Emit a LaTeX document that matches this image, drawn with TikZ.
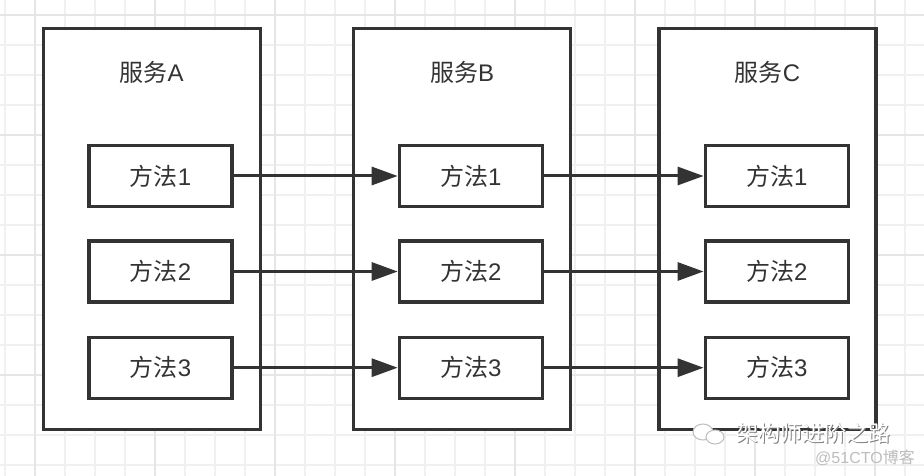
\documentclass[tikz,border=0pt]{standalone}
\usepackage{fontspec}
\setmainfont{Liberation Sans}
\newfontfamily\cjk{Noto Sans CJK SC}
\usetikzlibrary{arrows.meta}
\definecolor{ink}{HTML}{333333}
\definecolor{gridminor}{HTML}{F0F0F0}
\definecolor{gridmajor}{HTML}{E6E6E6}
\definecolor{wm}{HTML}{BDBDBD}
\begin{document}
\begin{tikzpicture}[x=1pt,y=-1pt,
  svc/.style={draw=ink, fill=white, line width=3.2pt, minimum width=217pt, minimum height=401pt, inner sep=0pt},
  meth/.style={draw=ink, fill=white, line width=3.2pt, minimum width=143pt, minimum height=61pt, inner sep=0pt, text=ink, font=\fontsize{24}{28}\selectfont},
  svctitle/.style={text=ink, font=\fontsize{24}{28}\selectfont, inner sep=0pt},
  arr/.style={draw=ink, line width=3pt, -{Triangle[length=26pt,width=18pt]}},
  wmtext/.style={inner sep=0pt}
]
\useasboundingbox (0,0) rectangle (924,476);
\fill[white] (0,0) rectangle (924,476);
% grid
\foreach \x in {5,35,...,905} \draw[gridminor, line width=1.2pt] (\x,0) -- (\x,476);
\foreach \y in {15,45,...,465} \draw[gridminor, line width=1.2pt] (0,\y) -- (924,\y);
\foreach \x in {35,155,...,905} \draw[gridmajor, line width=1.2pt] (\x,0) -- (\x,476);
\foreach \y in {15,135,...,465} \draw[gridmajor, line width=1.2pt] (0,\y) -- (924,\y);

% service boxes
\node[svc] (A) at (151.7,229.3) {};
\node[svc] (B) at (462,229.3) {};
\node[svc] (C) at (767.5,229.3) {};

\node[svctitle] (tA) at (151.7,72) {{\cjk 服务}A};
\node[svctitle] (tB) at (462,72) {{\cjk 服务}B};
\node[svctitle] (tC) at (767.5,72) {{\cjk 服务}C};

% methods
\node[meth] (A1) at (160.5,176) {{\cjk 方法}1};
\node[meth] (A2) at (160.5,271.5) {{\cjk 方法}2};
\node[meth] (A3) at (160.5,367.7) {{\cjk 方法}3};
\node[meth] (B1) at (470.8,176) {{\cjk 方法}1};
\node[meth] (B2) at (470.8,271.5) {{\cjk 方法}2};
\node[meth] (B3) at (470.8,367.7) {{\cjk 方法}3};
\node[meth] (C1) at (776.7,176) {{\cjk 方法}1};
\node[meth] (C2) at (776.7,271.5) {{\cjk 方法}2};
\node[meth] (C3) at (776.7,367.7) {{\cjk 方法}3};

% arrows
\draw[arr] (A1) -- (B1);
\draw[arr] (A2) -- (B2);
\draw[arr] (A3) -- (B3);
\draw[arr] (B1) -- (C1);
\draw[arr] (B2) -- (C2);
\draw[arr] (B3) -- (C3);

% watermark
\draw[wm, fill=white, line width=1pt] (703,432) ellipse (10pt and 8pt);
\draw[wm, fill=white, line width=1pt] (715,437) ellipse (9pt and 7pt);
\node[wmtext, text=gray] (wm1s) at (814,434) {\cjk\fontsize{22}{26}\selectfont 架构师进阶之路};
\node[wmtext, text=white] (wm1) at (813,433) {\cjk\fontsize{22}{26}\selectfont 架构师进阶之路};
\node[wmtext, text=wm] (wm2) at (865,458) {\fontsize{16}{19}\selectfont @51CTO{\cjk 博客}};
\end{tikzpicture}
\end{document}
